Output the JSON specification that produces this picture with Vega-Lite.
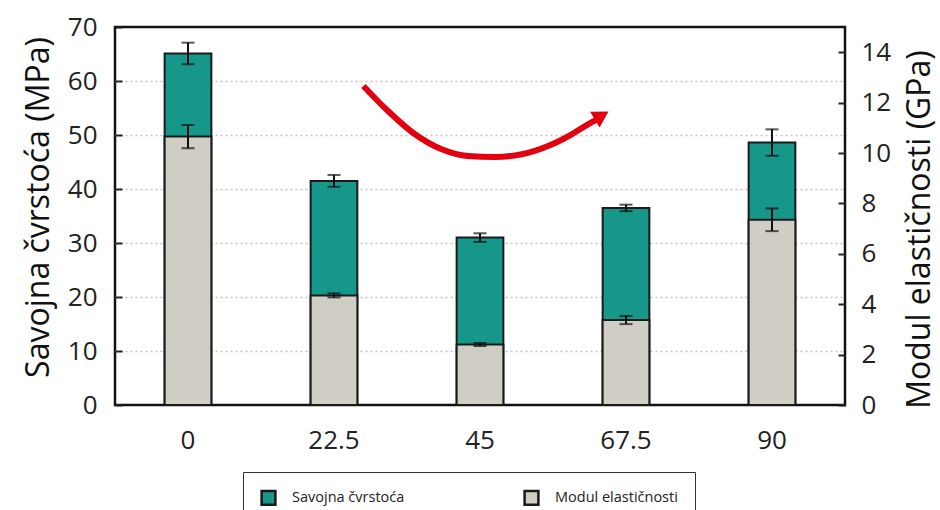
{
  "$schema": "https://vega.github.io/schema/vega-lite/v6.json",
  "width": 730,
  "height": 378,
  "autosize": {"type": "none"},
  "padding": {"left": 115, "top": 27, "right": 95, "bottom": 105},
  "background": "white",
  "config": {
    "view": {"stroke": "#111", "strokeWidth": 2.5},
    "font": "Open Sans",
    "axis": {"labelFont": "Open Sans", "titleFont": "Open Sans", "labelColor": "#222", "titleColor": "#111", "titleFontWeight": "normal"}
  },
  "datasets": {
    "bars": [
      {"angle": "0", "strength": 65.1, "strength_err": 2.0, "modulus": 10.65, "modulus_err": 0.46},
      {"angle": "22.5", "strength": 41.5, "strength_err": 1.1, "modulus": 4.35, "modulus_err": 0.08},
      {"angle": "45", "strength": 31.0, "strength_err": 0.8, "modulus": 2.40, "modulus_err": 0.06},
      {"angle": "67.5", "strength": 36.5, "strength_err": 0.6, "modulus": 3.37, "modulus_err": 0.16},
      {"angle": "90", "strength": 48.6, "strength_err": 2.45, "modulus": 7.35, "modulus_err": 0.45}
    ],
    "arrow": [
      {"x": 27.02, "y": 59.07},
      {"x": 30.82, "y": 54.44},
      {"x": 34.98, "y": 50.13},
      {"x": 39.10, "y": 47.35},
      {"x": 43.15, "y": 46.11},
      {"x": 47.31, "y": 45.93},
      {"x": 51.43, "y": 46.43},
      {"x": 55.48, "y": 47.96},
      {"x": 59.13, "y": 50.13},
      {"x": 61.64, "y": 51.98},
      {"x": 62.9, "y": 52.8}
    ],
    "arrowhead": [
      {"x": 63.75, "y": 53.6}
    ]
  },
  "layer": [
    {
      "data": {"name": "bars"},
      "layer": [
        {
          "mark": {"type": "bar", "stroke": "#1a1a1a", "strokeWidth": 2},
          "encoding": {
            "x": {"field": "angle", "type": "ordinal", "sort": null,
              "scale": {"paddingInner": 0.68, "paddingOuter": 0.34},
              "axis": {"title": null, "labelAngle": 0, "ticks": false, "tickSize": 0, "domain": false, "labelFontSize": 26, "labelPadding": 22}},
            "y": {"field": "strength", "type": "quantitative",
              "scale": {"domain": [0, 70], "nice": false},
              "axis": {"title": "Savojna čvrstoća (MPa)", "orient": "left", "values": [0, 10, 20, 30, 40, 50, 60, 70],
                "grid": true, "gridDash": [2, 3],
                "gridColor": {"condition": {"test": "datum.value === 0 || datum.value === 70", "value": "transparent"}, "value": "#c4c4c4"},
                "gridWidth": 1.5,
                "domain": false, "tickSize": -7, "tickColor": "#222", "tickWidth": 2,
                "labelFontSize": 26, "labelPadding": 25, "titleFontSize": 32, "titlePadding": 12, "titleY": 180}},
            "color": {"datum": "Savojna čvrstoća", "type": "nominal",
              "scale": {"domain": ["Savojna čvrstoća", "Modul elastičnosti"], "range": ["#17968a", "#cfcdc4"]},
              "legend": {"title": null, "orient": "none", "legendX": 128, "legendY": 445, "direction": "horizontal", "columns": 2,
                "columnPadding": 114, "padding": 17, "strokeColor": "#333", "fillColor": "white",
                "labelFont": "Open Sans", "labelFontSize": 14.5, "labelColor": "#222", "labelOffset": 15,
                "symbolType": "square", "symbolSize": 190, "symbolStrokeColor": "#222", "symbolStrokeWidth": 2.5}}
          }
        },
        {
          "mark": {"type": "errorbar", "color": "#111", "thickness": 2, "ticks": {"size": 13, "thickness": 2, "color": "#111"}, "rule": {"strokeWidth": 2, "color": "#111"}},
          "encoding": {
            "x": {"field": "angle", "type": "ordinal", "sort": null},
            "y": {"field": "strength", "type": "quantitative", "title": "Savojna čvrstoća (MPa)"},
            "yError": {"field": "strength_err"}
          }
        }
      ]
    },
    {
      "data": {"name": "bars"},
      "layer": [
        {
          "mark": {"type": "bar", "stroke": "#1a1a1a", "strokeWidth": 2},
          "encoding": {
            "x": {"field": "angle", "type": "ordinal", "sort": null,
              "scale": {"paddingInner": 0.68, "paddingOuter": 0.34}, "axis": null},
            "y": {"field": "modulus", "type": "quantitative",
              "scale": {"domain": [0, 15], "nice": false},
              "axis": {"title": "Modul elastičnosti (GPa)", "orient": "right", "values": [0, 2, 4, 6, 8, 10, 12, 14],
                "grid": false, "domain": false, "tickSize": -7, "tickColor": "#222", "tickWidth": 2,
                "labelFontSize": 26, "labelPadding": 23, "titleFontSize": 32, "titlePadding": 14, "titleAngle": 270, "titleBaseline": "top", "titleY": 202}},
            "color": {"datum": "Modul elastičnosti", "type": "nominal"}
          }
        },
        {
          "mark": {"type": "errorbar", "color": "#111", "thickness": 2, "ticks": {"size": 13, "thickness": 2, "color": "#111"}, "rule": {"strokeWidth": 2, "color": "#111"}},
          "encoding": {
            "x": {"field": "angle", "type": "ordinal", "sort": null},
            "y": {"field": "modulus", "type": "quantitative", "title": "Modul elastičnosti (GPa)"},
            "yError": {"field": "modulus_err"}
          }
        }
      ]
    },
    {
      "layer": [
        {
          "data": {"name": "arrow"},
          "mark": {"type": "line", "color": "#e3000f", "strokeWidth": 6, "interpolate": "monotone", "strokeCap": "butt"},
          "encoding": {
            "x": {"field": "x", "type": "quantitative", "scale": {"domain": [-11.25, 101.25], "nice": false, "zero": false}, "axis": null},
            "y": {"field": "y", "type": "quantitative", "scale": {"domain": [0, 70], "nice": false}, "axis": null}
          }
        },
        {
          "data": {"name": "arrowhead"},
          "mark": {"type": "point", "shape": "triangle-right", "filled": true, "color": "#e3000f", "size": 340, "angle": 329, "opacity": 1},
          "encoding": {
            "x": {"field": "x", "type": "quantitative"},
            "y": {"field": "y", "type": "quantitative"}
          }
        }
      ]
    }
  ],
  "resolve": {"scale": {"x": "independent", "y": "independent"}}
}
